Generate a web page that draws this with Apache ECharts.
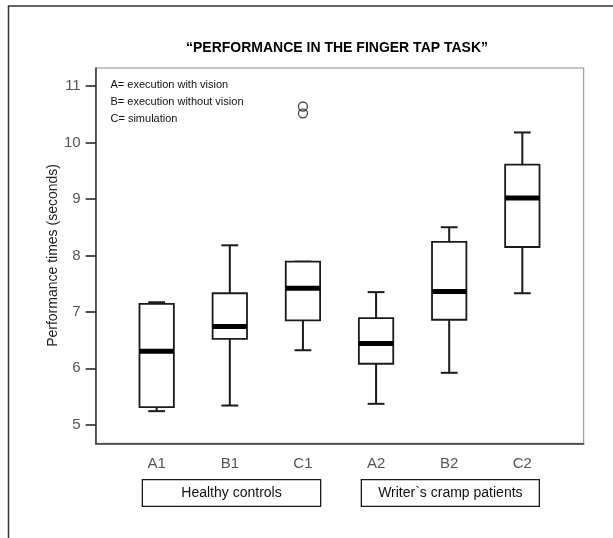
<!DOCTYPE html>
<html>
<head>
<meta charset="utf-8">
<script src="https://cdn.jsdelivr.net/npm/echarts@6/dist/echarts.min.js"></script>
<style>
  html, body { margin: 0; padding: 0; background: #fff; }
  #chart { width: 613px; height: 538px; }
</style>
</head>
<body>
<div id="chart"></div>
<script>
const categories = ["A1", "B1", "C1", "A2", "B2", "C2"];
// min, Q1, median, Q3, max  (seconds)
const lowWhisker = [5.24, 5.34, 6.32, 5.37, 5.92, 7.33];
const q1 = [5.31, 6.52, 6.85, 6.08, 6.86, 8.15];
const median = [6.30, 6.74, 7.42, 6.44, 7.36, 9.02];
const q3 = [7.14, 7.33, 7.89, 6.89, 8.24, 9.61];
const highWhisker = [7.17, 8.18, 7.89, 7.35, 8.50, 10.18];
// outliers: [category, value]
const outliers = [["C1", 10.64], ["C1", 10.52]];
const yTicks = [5, 6, 7, 8, 9, 10, 11];
const groups = ["Healthy controls", "Writer`s cramp patients"];
const notes = ["A= execution with vision", "B= execution without vision", "C= simulation"];

const font = "Liberation Sans, Arial, sans-serif";
const ink = "#1a1a1a";

const boxData = categories.map((c, i) => [i, lowWhisker[i], q1[i], median[i], q3[i], highWhisker[i]]);

function renderBox(params, api) {
	const x = api.value(0);
	const band = api.size([1, 0])[0];
	const half = band * 0.235;
	const cap = band * 0.115;
	const pMin = api.coord([x, api.value(1)]);
	const pQ1 = api.coord([x, api.value(2)]);
	const pMed = api.coord([x, api.value(3)]);
	const pQ3 = api.coord([x, api.value(4)]);
	const pMax = api.coord([x, api.value(5)]);
	const cx = pMin[0];
	const line = { stroke: ink, lineWidth: 2 };
	return {
		type: "group",
		children: [
			{ type: "line", shape: { x1: cx, y1: pMax[1], x2: cx, y2: pQ3[1] }, style: line },
			{ type: "line", shape: { x1: cx, y1: pQ1[1], x2: cx, y2: pMin[1] }, style: line },
			{ type: "line", shape: { x1: cx - cap, y1: pMax[1], x2: cx + cap, y2: pMax[1] }, style: line },
			{ type: "line", shape: { x1: cx - cap, y1: pMin[1], x2: cx + cap, y2: pMin[1] }, style: line },
			{
				type: "rect",
				shape: { x: cx - half, y: pQ3[1], width: half * 2, height: pQ1[1] - pQ3[1] },
				style: { fill: "#fff", stroke: ink, lineWidth: 1.8 },
			},
			{
				type: "line",
				shape: { x1: cx - half, y1: pMed[1], x2: cx + half, y2: pMed[1] },
				style: { stroke: "#000", lineWidth: 5 },
			},
		],
	};
}

const option = {
	animation: false,
	backgroundColor: "#fff",
	textStyle: { fontFamily: font },
	title: {
		text: "\u201CPERFORMANCE IN THE FINGER TAP TASK\u201D",
		left: 186,
		top: 41,
		padding: 0,
		textStyle: { fontSize: 14, fontWeight: "bold", color: "#000", fontFamily: font },
	},
	grid: [
		// data area (category bands)
		{ left: 120.1, right: 54.1, top: 86.2, bottom: 113.3 },
		// plot frame
		{ left: 95.7, right: 29.3, top: 68, bottom: 94.7, show: true, borderColor: "#8a8a8a", borderWidth: 1 },
	],
	xAxis: [
		{
			type: "category",
			gridIndex: 0,
			data: categories,
			offset: 18.6,
			axisLine: { show: false },
			axisTick: { alignWithLabel: true, length: 10, lineStyle: { color: ink, width: 1.5 } },
			axisLabel: { fontSize: 15, color: "#555", margin: 13, fontFamily: font },
		},
		{
			type: "value",
			gridIndex: 1,
			min: 0,
			max: 1,
			axisLine: { show: true, lineStyle: { color: "#333", width: 1.5 } },
			axisTick: { show: false },
			axisLabel: { show: false },
			splitLine: { show: false },
		},
	],
	yAxis: [
		{
			type: "value",
			gridIndex: 0,
			min: yTicks[0],
			max: yTicks[yTicks.length - 1],
			interval: 1,
			offset: 24.4,
			name: "Performance times (seconds)",
			nameLocation: "middle",
			nameGap: 36,
			nameMoveOverlap: false,
			nameTextStyle: { fontSize: 14, color: "#222", fontFamily: font },
			axisLine: { show: false },
			axisTick: { show: true, length: 10, lineStyle: { color: ink, width: 1.5 } },
			axisLabel: { fontSize: 15, color: "#555", margin: 15, fontFamily: font },
			splitLine: { show: false },
		},
		{
			type: "value",
			gridIndex: 1,
			min: 0,
			max: 1,
			axisLine: { show: true, lineStyle: { color: "#333", width: 1.5 } },
			axisTick: { show: false },
			axisLabel: { show: false },
			splitLine: { show: false },
		},
	],
	series: [
		{
			type: "custom",
			xAxisIndex: 0,
			yAxisIndex: 0,
			renderItem: renderBox,
			encode: { x: 0, y: [1, 2, 3, 4, 5] },
			data: boxData,
		},
		{
			type: "scatter",
			xAxisIndex: 0,
			yAxisIndex: 0,
			symbol: "circle",
			symbolSize: 9,
			itemStyle: { color: "rgba(0,0,0,0)", borderColor: ink, borderWidth: 1.3 },
			data: outliers,
		},
	],
	graphic: [
		// outer figure frame
		{
			type: "rect",
			shape: { x: 8.5, y: 6, width: 800, height: 800 },
			style: { fill: "none", stroke: "#333", lineWidth: 1.5 },
		},
		{
			type: "text",
			left: 110.5,
			top: 77,
			style: { text: notes.join("\n"), fontSize: 11, lineHeight: 16.8, fill: "#111", font: "11px " + font },
		},
		{
			type: "group",
			left: 141.7,
			top: 479,
			children: [
				{ type: "rect", shape: { width: 178.3, height: 26.7 }, style: { fill: "#fff", stroke: ink, lineWidth: 1.3 } },
				{
					type: "text",
					x: 89.15,
					y: 13.6,
					style: { text: groups[0], font: "14px " + font, fill: "#111", align: "center", verticalAlign: "middle" },
				},
			],
		},
		{
			type: "group",
			left: 360.7,
			top: 479,
			children: [
				{ type: "rect", shape: { width: 178, height: 26.7 }, style: { fill: "#fff", stroke: ink, lineWidth: 1.3 } },
				{
					type: "text",
					x: 89,
					y: 13.6,
					style: { text: groups[1], font: "14px " + font, fill: "#111", align: "center", verticalAlign: "middle" },
				},
			],
		},
	],
};

const chart = echarts.init(document.getElementById("chart"), null, { renderer: "canvas" });
chart.setOption(option);
</script>
</body>
</html>
